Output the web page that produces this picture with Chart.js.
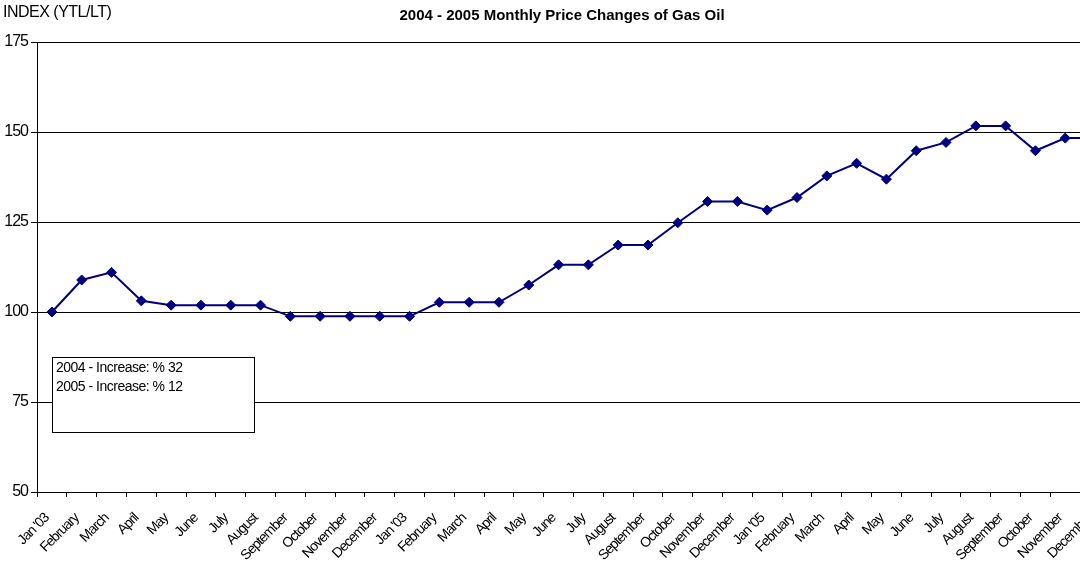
<!DOCTYPE html>
<html>
<head>
<meta charset="utf-8">
<script src="https://cdn.jsdelivr.net/npm/chart.js@4/dist/chart.umd.min.js"></script>
<style>
  html, body { margin: 0; padding: 0; background: #fff; overflow: hidden; }
  #wrap { width: 1120px; height: 567px; }
</style>
</head>
<body>
<div id="wrap"><canvas id="chart" width="1120" height="567"></canvas></div>
<script>
// Data
const months = ["Jan '03", "February", "March", "April", "May", "June", "July", "August",
    "September", "October", "November", "December",
    "Jan '03", "February", "March", "April", "May", "June", "July", "August",
    "September", "October", "November", "December",
    "Jan '05", "February", "March", "April", "May", "June", "July", "August",
    "September", "October", "November", "December"];

const priceIndex = [100, 108.9, 111.0, 103.1, 101.9, 101.9, 101.9, 101.9,
    98.8, 98.8, 98.8, 98.8,
    98.8, 102.7, 102.7, 102.7, 107.5, 113.1, 113.1, 118.6,
    118.6, 124.8, 130.7, 130.7,
    128.3, 131.8, 137.8, 141.3, 136.9, 144.8, 147.1, 151.7,
    151.7, 144.8, 148.3, 148.3];

const yTicks = [50, 75, 100, 125, 150, 175];

const titleText = "2004 - 2005 Monthly Price Changes of Gas Oil";
const axisTitle = "INDEX (YTL/LT)";
const noteLines = ["2004 - Increase: % 32", "2005 - Increase: % 12"];

const FONT = "'Liberation Sans', Arial, sans-serif";

// Condensed look of the tick labels
const spacingPlugin = {
    id: "spacing",
    beforeLayout(chart) { chart.ctx.letterSpacing = "-1px"; },
    beforeDraw(chart) { chart.ctx.letterSpacing = "-1px"; }
};

// Title, axis caption and the note box
const textPlugin = {
    id: "texts",
    afterDraw(chart) {
        const ctx = chart.ctx;
        ctx.save();
        ctx.fillStyle = "#000";
        ctx.textBaseline = "alphabetic";

        ctx.letterSpacing = "0px";
        ctx.font = "bold 15px " + FONT;
        ctx.textAlign = "center";
        ctx.fillText(titleText, 562, 20);

        ctx.letterSpacing = "-0.5px";
        ctx.font = "16px " + FONT;
        ctx.textAlign = "left";
        ctx.fillText(axisTitle, 3, 17);

        ctx.fillStyle = "#fff";
        ctx.fillRect(52.5, 357.5, 202, 75);
        ctx.strokeStyle = "#000";
        ctx.lineWidth = 1;
        ctx.strokeRect(52.5, 357.5, 202, 75);

        ctx.fillStyle = "#000";
        ctx.font = "14px " + FONT;
        noteLines.forEach(function (line, i) {
            ctx.fillText(line, 56, 372 + i * 19);
        });
        ctx.restore();
    }
};

const ctx = document.getElementById("chart").getContext("2d");
new Chart(ctx, {
    type: "line",
    data: {
        labels: months,
        datasets: [{
            data: priceIndex,
            borderColor: "#000080",
            backgroundColor: "#000080",
            borderWidth: 2,
            pointStyle: "rectRot",
            pointRadius: 5,
            pointBorderWidth: 1,
            tension: 0,
            clip: false
        }]
    },
    options: {
        responsive: false,
        animation: false,
        devicePixelRatio: 1,
        layout: { padding: { top: 42, left: 0, right: 4, bottom: 0 } },
        plugins: {
            legend: { display: false },
            title: { display: false },
            tooltip: { enabled: false }
        },
        scales: {
            x: {
                offset: true,
                grid: {
                    offset: true,
                    drawOnChartArea: false,
                    color: "#000",
                    tickLength: 5,
                    tickWidth: 1
                },
                border: { color: "#000", width: 1 },
                ticks: {
                    color: "#000",
                    font: { family: FONT, size: 14 },
                    maxRotation: 45,
                    minRotation: 45,
                    autoSkip: false,
                    padding: 13,
                    labelOffset: -5
                },
                afterFit(scale) { scale.height = 75; }
            },
            y: {
                min: 50,
                max: 175,
                afterBuildTicks(scale) {
                    scale.ticks = yTicks.map(function (v) { return { value: v }; });
                },
                grid: {
                    color: "#000",
                    lineWidth: 1,
                    tickLength: 6
                },
                border: { color: "#000", width: 1 },
                ticks: {
                    color: "#000",
                    font: { family: FONT, size: 16 },
                    padding: 3
                },
                afterFit(scale) { scale.width = 37; }
            }
        }
    },
    plugins: [spacingPlugin, textPlugin]
});
</script>
</body>
</html>
